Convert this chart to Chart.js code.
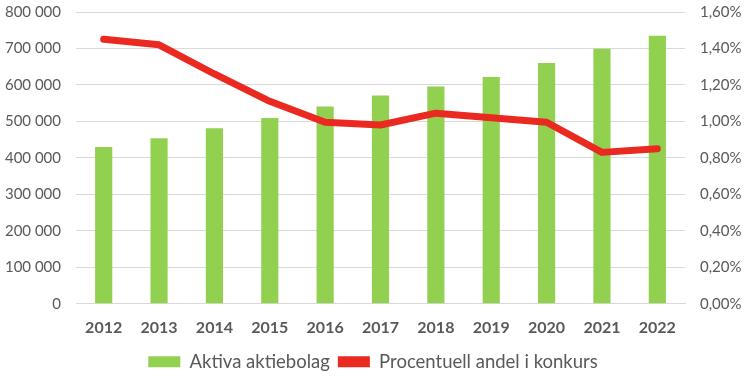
<!DOCTYPE html>
<html>
<head>
<meta charset="utf-8">
<script src="https://cdn.jsdelivr.net/npm/chart.js@4"></script>
<style>
  html, body { margin: 0; padding: 0; background: #fff; }
  #wrap { width: 746px; height: 376px; }
</style>
</head>
<body>
<div id="wrap"><canvas id="chart"></canvas></div>
<script>
// Data
const years = ['2012', '2013', '2014', '2015', '2016', '2017', '2018', '2019', '2020', '2021', '2022'];
const activeCompanies = [430000, 454000, 481000, 509000, 541000, 571000, 596000, 622000, 660000, 699000, 735000];
const bankruptShare = [1.45, 1.42, 1.26, 1.11, 0.995, 0.98, 1.045, 1.02, 0.995, 0.83, 0.85];

const TEXT = '#595959';
const GRID = '#d9d9d9';
const FONT = 'Lato, "Open Sans", sans-serif';

function fmtThousands(v) {
  return String(Math.round(v)).replace(/\B(?=(\d{3})+(?!\d))/g, ' ');
}

// let the plot area reach closer to the top edge
function tightY(scale, width) {
  scale.width = width;
  scale.paddingTop = 0;
  scale.paddingBottom = 0;
}

new Chart(document.getElementById('chart'), {
  data: {
    labels: years,
    datasets: [
      {
        type: 'line',
        label: 'Procentuell andel i konkurs',
        data: bankruptShare,
        yAxisID: 'y1',
        borderColor: '#ea2a20',
        backgroundColor: '#ea2a20',
        borderWidth: 7,
        pointRadius: 0,
        tension: 0,
        borderCapStyle: 'round',
        borderJoinStyle: 'round',
        order: 0,
      },
      {
        type: 'bar',
        label: 'Aktiva aktiebolag',
        data: activeCompanies,
        yAxisID: 'y',
        backgroundColor: '#92d050',
        borderColor: '#92d050',
        categoryPercentage: 1,
        barPercentage: 0.31,
        order: 1,
      }
    ]
  },
  options: {
    responsive: true,
    maintainAspectRatio: false,
    animation: false,
    layout: { padding: { top: 12, left: 0, right: 0, bottom: -5 } },
    plugins: {
      tooltip: { enabled: false },
      legend: {
        position: 'bottom',
        reverse: true,
        labels: {
          color: TEXT,
          font: { family: FONT, size: 18.5 },
          boxWidth: 32,
          boxHeight: 11,
          padding: 8,
          generateLabels: (chart) => {
            const items = Chart.defaults.plugins.legend.labels.generateLabels(chart);
            items.forEach(it => { it.lineWidth = 0; });
            return items;
          }
        }
      }
    },
    scales: {
      x: {
        grid: { display: false },
        border: { display: true, color: GRID, width: 1 },
        ticks: {
          color: TEXT,
          font: { family: FONT, size: 16, weight: 'bold', lineHeight: 1.05 },
          padding: 8,
        }
      },
      y: {
        position: 'left',
        min: 0,
        max: 800000,
        grid: { color: GRID, drawTicks: false },
        border: { display: false },
        ticks: {
          stepSize: 100000,
          color: TEXT,
          font: { family: FONT, size: 15 },
          padding: 15,
          callback: (v) => fmtThousands(v),
        },
        afterFit: (scale) => tightY(scale, 76)
      },
      y1: {
        position: 'right',
        min: 0,
        max: 1.6,
        grid: { display: false, drawTicks: false },
        border: { display: false },
        ticks: {
          stepSize: 0.2,
          color: TEXT,
          font: { family: FONT, size: 15 },
          padding: 15,
          callback: (v) => v.toFixed(2).replace('.', ',') + '%',
        },
        afterFit: (scale) => tightY(scale, 61)
      }
    }
  }
});
</script>
</body>
</html>
